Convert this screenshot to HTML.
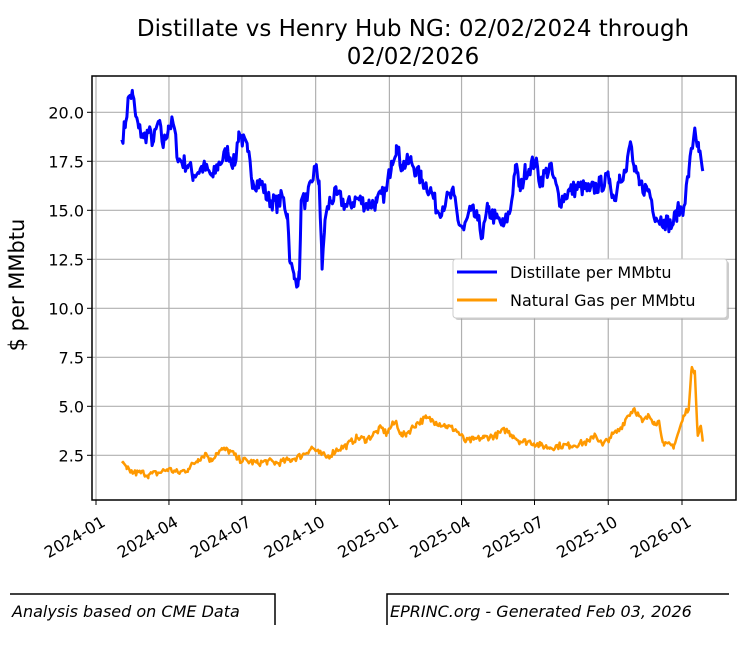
<!DOCTYPE html>
<html><head><meta charset="utf-8"><style>
body{margin:0;background:#fff;width:750px;height:641px;overflow:hidden;font-family:"DejaVu Sans","Liberation Sans",sans-serif}
</style></head><body>
<svg id="s" width="750" height="641" xmlns="http://www.w3.org/2000/svg" font-family="DejaVu Sans, Liberation Sans, sans-serif">
<text x="413" y="36" font-size="23" text-anchor="middle">Distillate vs Henry Hub NG: 02/02/2024 through</text>
<text x="413" y="64" font-size="23" text-anchor="middle">02/02/2026</text>
<text transform="translate(24,285) rotate(-90)" font-size="21" text-anchor="middle">$ per MMbtu</text>
<g id="grid" stroke="#b0b0b0" stroke-width="1.2"></g>
<g id="ser"></g>
<rect x="92" y="76" width="644" height="424" fill="none" stroke="#000" stroke-width="1.5"/>
<g id="tk" font-size="16"></g>
<rect x="455" y="261" width="274" height="59" rx="3" fill="#999" opacity="0.5"/>
<rect x="453" y="259" width="274" height="59" rx="3" fill="#fff" stroke="#ccc"/>
<line x1="457" y1="272" x2="497" y2="272" stroke="#0000ff" stroke-width="3"/>
<line x1="457" y1="300" x2="497" y2="300" stroke="#ff9900" stroke-width="3"/>
<text x="510" y="278" font-size="16">Distillate per MMbtu</text>
<text x="510" y="306" font-size="16">Natural Gas per MMbtu</text>
<polyline points="10,594 275,594 275,625" fill="none" stroke="#000" stroke-width="1.5"/>
<polyline points="387,625 387,594 729,594" fill="none" stroke="#000" stroke-width="1.5"/>
<text x="12" y="617" font-size="16" font-style="italic">Analysis based on CME Data</text>
<text x="390" y="617" font-size="16" font-style="italic">EPRINC.org - Generated Feb 03, 2026</text>
</svg>
<script>
var NS="http://www.w3.org/2000/svg";
function el(p,t,a,txt){var e=document.createElementNS(NS,t);for(var k in a)e.setAttribute(k,a[k]);if(txt)e.textContent=txt;p.appendChild(e);return e;}
function Y(v){return 112.3+(20-v)*19.6;}
var x0=96,ppd=586/731;
var g=document.getElementById('grid'),tk=document.getElementById('tk');
var days=[0,91,182,274,366,456,547,639,731],labs=["2024-01","2024-04","2024-07","2024-10","2025-01","2025-04","2025-07","2025-10","2026-01"];
days.forEach(function(d,i){var x=x0+d*ppd;el(g,'line',{x1:x,y1:76,x2:x,y2:500});el(tk,'line',{x1:x,y1:500,x2:x,y2:505,stroke:'#000'});
el(tk,'text',{transform:'translate('+(x+4)+',514) rotate(-30)','text-anchor':'end',dy:'0.8em'},labs[i]);});
[2.5,5,7.5,10,12.5,15,17.5,20].forEach(function(v){var y=Y(v);el(g,'line',{x1:92,y1:y,x2:736,y2:y});el(tk,'line',{x1:87,y1:y,x2:92,y2:y,stroke:'#000'});el(tk,'text',{x:84,y:y+6,'text-anchor':'end'},v.toFixed(1));});
function X(o){return 96+(o-97)*0.8016/0.8085;}
var D=[123,18.6,127,19.5,130,20.8,134,20.9,137,19.8,140,19.2,145,18.7,150,19.0,155,18.5,160,19.5,165,18.3,170,19.3,175,19.4,180,17.6,190,17.3,195,16.8,205,17.2,215,16.7,220,17.3,230,18.0,237,17.3,241,19.0,250,18.0,255,16.5,265,16.3,270,15.6,280,15.3,285,15.7,290,14.8,293,12.3,297,11.5,302,11.5,304,15.5,310,15.5,318,17.2,322,16.5,325,12.0,328,14.5,333,15.5,340,15.8,350,15.2,360,15.6,370,15.3,380,15.4,390,16.0,395,17.5,400,18.3,405,17.3,415,17.5,420,17.0,425,16.6,435,16.0,442,14.9,450,15.5,458,15.8,462,14.5,468,14.0,475,15.0,482,14.5,487,13.7,492,15.0,500,14.6,508,14.2,515,15.0,520,17.3,525,16.0,530,17.0,540,17.5,545,16.5,555,17.2,565,15.5,575,16.0,585,16.2,595,16.0,605,16.3,615,16.6,620,15.5,625,16.8,632,17.0,636,18.5,640,17.0,645,16.3,655,16.0,662,14.6,670,14.5,678,14.2,683,14.9,690,15.2,695,17.0,701,19.2,705,18.0,709,17.0];
var G=[123,2.1,128,1.8,135,1.6,145,1.6,150,1.5,160,1.6,170,1.8,180,1.6,190,1.8,200,2.3,208,2.6,213,2.2,218,2.6,225,2.8,233,2.7,240,2.3,250,2.2,260,2.1,270,2.2,280,2.1,295,2.3,305,2.5,315,2.9,322,2.6,330,2.4,340,2.8,350,3.0,360,3.4,370,3.3,380,3.7,385,3.9,390,3.6,395,4.0,400,4.2,405,3.5,410,3.6,420,4.1,430,4.4,440,4.2,450,4.0,460,3.8,470,3.2,478,3.3,488,3.4,500,3.5,510,3.8,518,3.5,525,3.2,535,3.2,545,3.0,555,2.9,565,3.0,575,3.0,585,3.1,595,3.2,600,3.6,608,3.0,615,3.4,625,3.8,633,4.5,640,4.9,648,4.2,655,4.5,660,4.2,665,4.2,670,3.0,680,3.0,690,4.5,695,5.0,698,7.0,701,6.8,704,3.5,707,4.0,709,3.2];
var seed=7;function rnd(){seed=(seed*16807)%2147483647;return seed/2147483647-0.5;}
function pts(A,amp){var s=[];for(var i=0;i<A.length-2;i+=2){var xa=A[i],va=A[i+1],xb=A[i+2],vb=A[i+3];for(var x=xa;x<xb;x+=1.2){var t=(x-xa)/(xb-xa);var v=va+(vb-va)*t+(x>xa?rnd()*amp:0);s.push(X(x).toFixed(1)+','+Y(v).toFixed(1));}}s.push(X(A[A.length-2]).toFixed(1)+','+Y(A[A.length-1]).toFixed(1));return s.join(' ');}
var ser=document.getElementById('ser');
el(ser,'polyline',{points:pts(D,0.9),fill:'none',stroke:'#0000ff','stroke-width':3,'stroke-linejoin':'round'});
el(ser,'polyline',{points:pts(G,0.35),fill:'none',stroke:'#ff9900','stroke-width':2.5,'stroke-linejoin':'round'});
</script>
</body></html>
